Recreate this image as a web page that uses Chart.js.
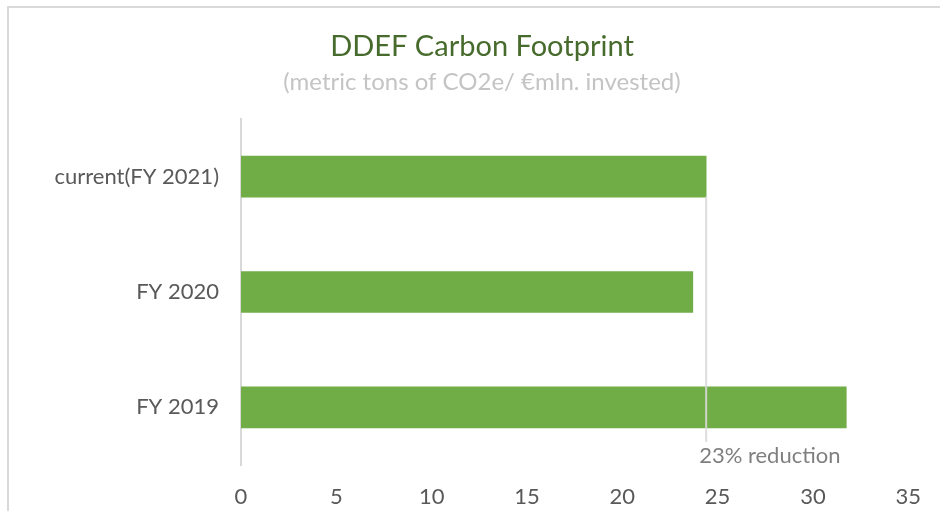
<html lang="en">
<head>
    <meta charset="UTF-8">
    <title>DDEF Carbon Footprint</title>
    <script src="https://cdn.jsdelivr.net/npm/chart.js@4.4.1/dist/chart.umd.min.js"></script>
    <style>
        body { margin: 0; background: #fff; }
        #wrap { position: relative; width: 940px; height: 511px; overflow: hidden; }
        #frame { position: absolute; left: 7px; top: 6px; width: 1000px; height: 1000px;
                 border: 2px solid #d9d9d9; box-sizing: border-box; }
        #myChart { position: absolute; left: 0; top: 0; }
    </style>
</head>
<body>
    <div id="wrap">
        <div id="frame"></div>
        <canvas id="myChart" width="940" height="511"></canvas>
    </div>
    <script>
        const categories = ['current(FY 2021)', 'FY 2020', 'FY 2019'];
        const footprint = [24.4, 23.7, 31.75];
        const xTicks = [0, 5, 10, 15, 20, 25, 30, 35];
        const reductionValue = 24.4;
        const reductionLabel = '23% reduction';

        const FONT = 'Lato, "Open Sans", sans-serif';

        // vertical marker line + text for the reduction
        const reductionPlugin = {
            id: 'reduction_line',
            afterDatasetsDraw: (chart) => {
                const ctx = chart.ctx;
                const x = chart.scales.x.getPixelForValue(reductionValue);
                const yTop = chart.scales.y.getPixelForValue(0) + 20;
                const yBottom = chart.chartArea.bottom - 23;
                ctx.save();
                ctx.strokeStyle = 'rgba(217,217,217,0.9)';
                ctx.lineWidth = 2;
                ctx.beginPath();
                ctx.moveTo(x, yTop);
                ctx.lineTo(x, yBottom);
                ctx.stroke();
                ctx.fillStyle = '#7f7f7f';
                ctx.font = '22px ' + FONT;
                ctx.textAlign = 'left';
                ctx.textBaseline = 'middle';
                ctx.fillText(reductionLabel, x - 7, yBottom + 14);
                ctx.restore();
            }
        };

        const ctx = document.getElementById('myChart').getContext('2d');
        const myChart = new Chart(ctx, {
            type: 'bar',
            data: {
                labels: categories,
                datasets: [{
                    data: footprint,
                    backgroundColor: '#70ad47',
                    borderWidth: 0,
                    barThickness: 41
                }]
            },
            plugins: [reductionPlugin],
            options: {
                indexAxis: 'y',
                responsive: false,
                animation: false,
                // uneven side padding so the title centres where the original does
                layout: { padding: { left: 54, right: 30, top: 0, bottom: 0 } },
                plugins: {
                    legend: { display: false },
                    tooltip: { enabled: false },
                    title: {
                        display: true,
                        text: 'DDEF Carbon Footprint',
                        color: '#476b2c',
                        font: { family: FONT, size: 29, weight: 'normal' },
                        padding: { top: 29.6, bottom: 3.2 }
                    },
                    subtitle: {
                        display: true,
                        text: '(metric tons of CO2e/ €mln. invested)',
                        color: '#c4c4c4',
                        font: { family: FONT, size: 24, weight: 'normal' },
                        padding: { top: 0, bottom: 22.6 }
                    }
                },
                scales: {
                    x: {
                        min: 0,
                        max: 35,
                        afterBuildTicks: (scale) => { scale.ticks = xTicks.map(v => ({ value: v })); },
                        afterFit: (scale) => { scale.height = 46; },
                        grid: { display: false, drawTicks: false },
                        border: { display: false },
                        ticks: {
                            color: '#595959',
                            padding: 19,
                            font: { family: FONT, size: 22 }
                        }
                    },
                    y: {
                        afterFit: (scale) => { scale.width = 187; },
                        grid: { display: false, drawTicks: false },
                        border: { display: true, color: '#d9d9d9', width: 2 },
                        ticks: {
                            color: '#595959',
                            padding: 22,
                            font: { family: FONT, size: 22 }
                        }
                    }
                }
            }
        });
    </script>
</body>
</html>
